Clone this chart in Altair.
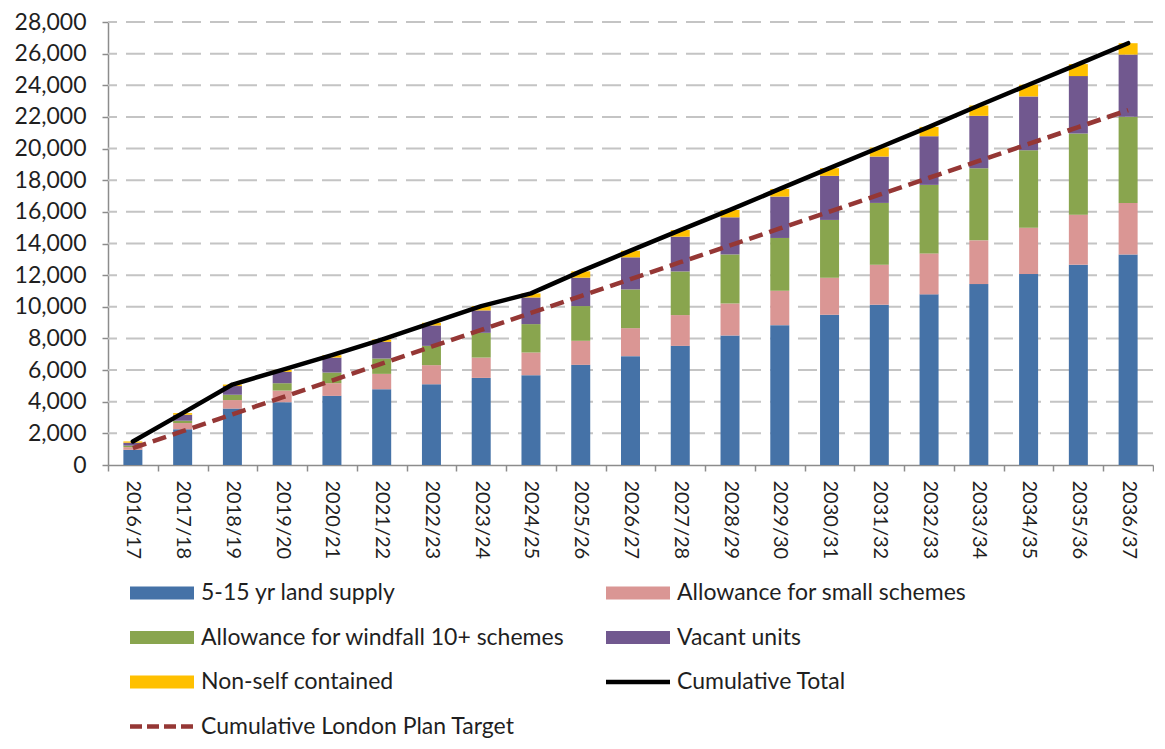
import altair as alt
import pandas as pd

years = ["2016/17", "2017/18", "2018/19", "2019/20", "2020/21", "2021/22", "2022/23",
         "2023/24", "2024/25", "2025/26", "2026/27", "2027/28", "2028/29", "2029/30",
         "2030/31", "2031/32", "2032/33", "2033/34", "2034/35", "2035/36", "2036/37"]

land_supply = [960, 2260, 3565, 3970, 4370, 4790, 5105, 5505, 5675, 6330, 6880,
               7530, 8185, 8840, 9495, 10130, 10785, 11435, 12070, 12660, 13310]
small_schemes = [170, 390, 540, 735, 800, 970, 1205, 1285, 1435, 1520, 1770,
                 1945, 2025, 2175, 2345, 2530, 2590, 2765, 2930, 3165, 3255]
windfall = [95, 150, 335, 465, 675, 970, 1220, 1565, 1795, 2195, 2450,
            2760, 3100, 3335, 3650, 3905, 4330, 4555, 4895, 5125, 5445]
vacant = [185, 375, 550, 720, 945, 1055, 1290, 1415, 1685, 1795, 2025,
          2195, 2345, 2615, 2785, 2930, 3075, 3315, 3400, 3630, 3930]
non_self = [80, 105, 95, 120, 150, 145, 170, 275, 255, 400, 420,
            420, 465, 485, 485, 570, 590, 655, 740, 760, 720]
target = [1068, 2136, 3204, 4272, 5340, 6408, 7476, 8544, 9612, 10680, 11748,
          12816, 13884, 14952, 16020, 17088, 18156, 19224, 20292, 21360, 22428]

series_names = ["5-15 yr land supply", "Allowance for small schemes",
                "Allowance for windfall 10+ schemes", "Vacant units", "Non-self contained"]
series_colors = ["#4572A7", "#DA9694", "#89A54E", "#71588F", "#FFC000"]
total_name = "Cumulative Total"
target_name = "Cumulative London Plan Target"
y_ticks = list(range(0, 28001, 2000))

FONT = "Lato"
TEXT = "#1f1f1f"
AXIS_GREY = "#8c8c8c"

series_values = [land_supply, small_schemes, windfall, vacant, non_self]
rows = []
for k, (name, vals) in enumerate(zip(series_names, series_values)):
    for yr, v in zip(years, vals):
        rows.append({"year": yr, "series": name, "value": v, "order": k})
bar_df = pd.DataFrame(rows)

totals = [sum(s[i] for s in series_values) for i in range(len(years))]
line_df = pd.DataFrame({"year": years, "total": totals, "target": target})
grid_df = pd.DataFrame({"v": y_ticks[1:]})

x_axis = alt.Axis(title=None, labelAngle=90, tickBand="extent",
                  labelFontSize=20, labelPadding=9, tickSize=6,
                  labelOverlap=False,
                  domainColor=AXIS_GREY, tickColor=AXIS_GREY,
                  domainWidth=1.5, tickWidth=1.5, grid=False)
y_axis = alt.Axis(title=None, values=y_ticks, format=",.0f", labelFontSize=23,
                  labelPadding=16, tickSize=6, minExtent=100, maxExtent=100,
                  labelOverlap=False, labelBound=False, labelFlush=False,
                  domainColor=AXIS_GREY, tickColor=AXIS_GREY,
                  domainWidth=1.5, tickWidth=1.5, grid=False)
x_scale = alt.Scale(paddingInner=0, paddingOuter=0)
y_scale = alt.Scale(domain=[0, 28000], nice=False)

grid = alt.Chart(grid_df).mark_rule(
    color="#c4c4c4", strokeWidth=2, strokeDash=[19, 9]
).encode(y=alt.Y("v:Q", scale=y_scale, axis=y_axis))

bars = alt.Chart(bar_df).mark_bar(size=19).encode(
    x=alt.X("year:N", sort=years, scale=x_scale, axis=x_axis),
    y=alt.Y("value:Q", stack="zero", scale=y_scale, axis=y_axis),
    color=alt.Color("series:N", scale=alt.Scale(domain=series_names, range=series_colors),
                    legend=None),
    order=alt.Order("order:Q", sort="ascending"),
)

target_line = alt.Chart(line_df).mark_line(
    color="#953735", strokeWidth=4.5, strokeDash=[14, 7], strokeCap="butt"
).encode(x=alt.X("year:N", sort=years, scale=x_scale, axis=x_axis),
         y=alt.Y("target:Q", scale=y_scale, axis=y_axis))

total_line = alt.Chart(line_df).mark_line(
    color="black", strokeWidth=4.5, strokeJoin="round", strokeCap="round"
).encode(x=alt.X("year:N", sort=years, scale=x_scale, axis=x_axis),
         y=alt.Y("total:Q", scale=y_scale, axis=y_axis))

data_layer = alt.layer(grid, bars, target_line, total_line)

# legend (two columns, row-major), drawn below the plot
legend_labels = series_names + [total_name, target_name]
legend_kinds = ["bar"] * 5 + ["total", "target"]
leg_df = pd.DataFrame({"label": legend_labels, "kind": legend_kinds,
                       "idx": list(range(len(legend_labels)))})

leg_base = alt.Chart(leg_df).transform_calculate(
    sx="22 + 476 * (datum.idx % 2)",
    sx2="22 + 476 * (datum.idx % 2) + 64",
    tx="22 + 476 * (datum.idx % 2) + 71",
    sy="571 + 44.5 * floor(datum.idx / 2)",
)
lx = alt.X("sx:Q", scale=None, axis=None)
lx2 = alt.X2("sx2:Q")
ly = alt.Y("sy:Q", scale=None, axis=None)

leg_bars = leg_base.transform_filter("datum.kind == 'bar'").mark_rule(
    strokeWidth=13, strokeCap="butt"
).encode(x=lx, x2=lx2, y=ly,
         color=alt.Color("label:N", scale=alt.Scale(domain=series_names, range=series_colors),
                         legend=None))
leg_total = leg_base.transform_filter("datum.kind == 'total'").mark_rule(
    strokeWidth=4.5, color="black", strokeCap="butt"
).encode(x=lx, x2=lx2, y=ly)
leg_target = leg_base.transform_filter("datum.kind == 'target'").mark_rule(
    strokeWidth=4.5, color="#953735", strokeDash=[12, 5], strokeCap="butt"
).encode(x=lx, x2=lx2, y=ly)
leg_text = leg_base.mark_text(
    align="left", baseline="middle", fontSize=23, font=FONT, color=TEXT
).encode(x=alt.X("tx:Q", scale=None, axis=None), y=ly, text="label:N")

legend_layer = alt.layer(leg_bars, leg_total, leg_target, leg_text)

chart = alt.layer(data_layer, legend_layer).resolve_scale(
    x="independent", y="independent"
).properties(
    width=1045, height=443,
    padding={"left": 0, "top": 3, "right": 0, "bottom": 0},
).configure_view(stroke=None).configure_axis(
    labelFont=FONT, labelColor=TEXT, labelOverlap=False
)

chart.save("out.html", embed_options={"renderer": "svg", "actions": False})
